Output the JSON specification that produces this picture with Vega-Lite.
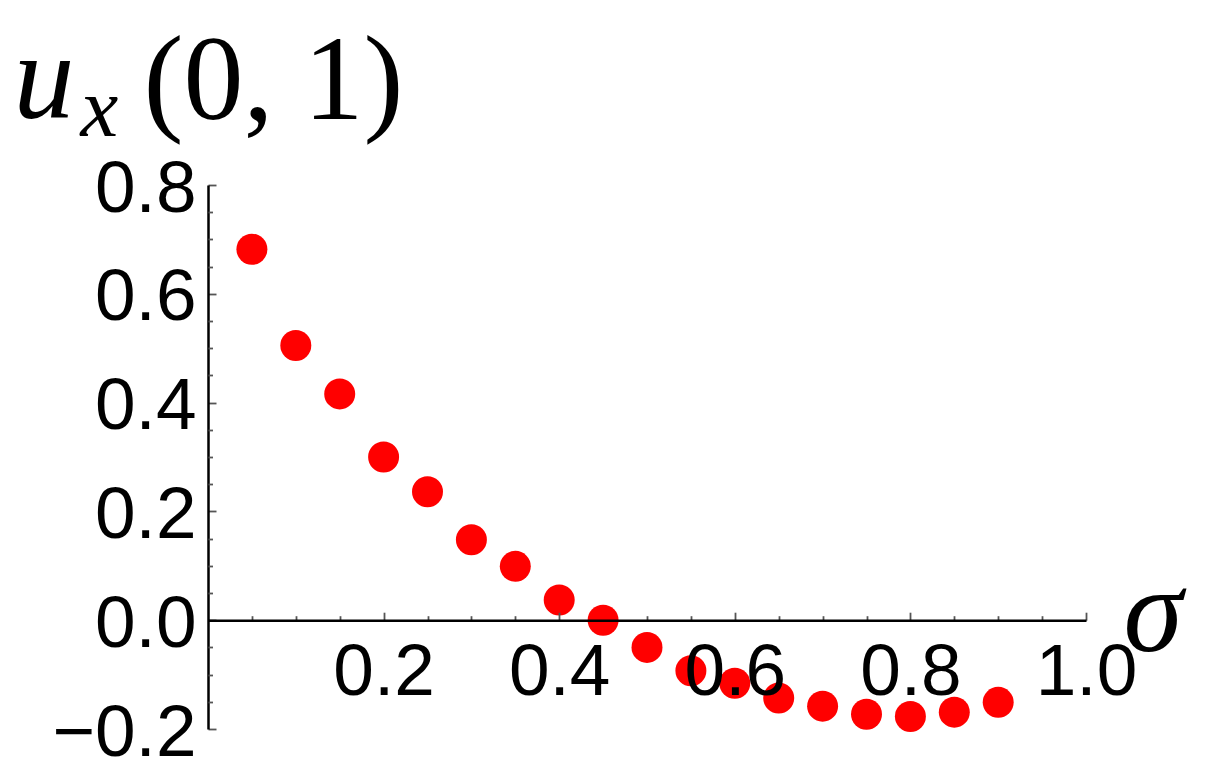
{
  "$schema": "https://vega.github.io/schema/vega-lite/v6.json",
  "width": 878,
  "height": 544,
  "autosize": "none",
  "padding": {"left": 208, "top": 185, "right": 119, "bottom": 46},
  "background": "white",
  "config": {
    "view": {"stroke": null},
    "axis": {
      "grid": false,
      "labelFont": "Liberation Sans",
      "labelFontSize": 73,
      "labelColor": "black",
      "domainColor": "black",
      "domainWidth": 2.5,
      "tickColor": "#555555",
      "tickWidth": 1.8,
      "titleColor": "black",
      "titleFontWeight": "normal",
      "titleAngle": 0,
      "titleAlign": "left",
      "titleBaseline": "alphabetic"
    }
  },
  "data": {
    "values": [
      {"sigma": 0.05, "u": 0.682},
      {"sigma": 0.10, "u": 0.505},
      {"sigma": 0.15, "u": 0.416},
      {"sigma": 0.20, "u": 0.300},
      {"sigma": 0.25, "u": 0.236},
      {"sigma": 0.30, "u": 0.148},
      {"sigma": 0.35, "u": 0.099},
      {"sigma": 0.40, "u": 0.037},
      {"sigma": 0.45, "u": 0.000},
      {"sigma": 0.50, "u": -0.050},
      {"sigma": 0.55, "u": -0.093},
      {"sigma": 0.60, "u": -0.116},
      {"sigma": 0.65, "u": -0.143},
      {"sigma": 0.70, "u": -0.158},
      {"sigma": 0.75, "u": -0.173},
      {"sigma": 0.80, "u": -0.177},
      {"sigma": 0.85, "u": -0.169},
      {"sigma": 0.90, "u": -0.151}
    ]
  },
  "layer": [
    {
      "mark": {"type": "point", "filled": true, "color": "#ff0000", "size": 960, "opacity": 1},
      "encoding": {
        "x": {
          "field": "sigma", "type": "quantitative",
          "scale": {"domain": [0, 1], "nice": false, "zero": false},
          "axis": {
            "orient": "bottom", "offset": -108.8,
            "values": [0.2, 0.4, 0.6, 0.8, 1.0], "format": ".1f",
            "tickSize": -8, "labelPadding": 24, "labelBaseline": "top",
            "labelFlush": false, "labelOverlap": false, "zindex": 1,
            "title": "σ", "titleFont": "Liberation Serif", "titleFontStyle": "italic",
            "titleFontSize": 120, "titleX": 915, "titleY": 30
          }
        },
        "y": {
          "field": "u", "type": "quantitative",
          "scale": {"domain": [-0.2, 0.8], "nice": false, "zero": false},
          "axis": {
            "orient": "left",
            "values": [-0.2, 0, 0.2, 0.4, 0.6, 0.8], "format": ".1f",
            "tickSize": -8, "labelPadding": 20, "labelOffset": 4,
            "labelBaseline": "middle", "labelAlign": "right",
            "labelFlush": false, "labelOverlap": false,
            "title": "u", "titleFont": "Liberation Serif", "titleFontStyle": "italic",
            "titleFontSize": 122, "titleX": -195, "titleY": -68
          }
        }
      }
    },
    {
      "mark": {"type": "point", "opacity": 0},
      "encoding": {
        "x": {
          "field": "sigma", "type": "quantitative",
          "axis": {
            "orient": "bottom", "offset": -108.8,
            "values": [0.05, 0.1, 0.15, 0.25, 0.3, 0.35, 0.45, 0.5, 0.55, 0.65, 0.7, 0.75, 0.85, 0.9, 0.95],
            "tickSize": -4.5, "labels": false, "domain": false,
            "title": "(0, 1)", "titleFont": "Liberation Serif", "titleFontStyle": "normal",
            "titleFontSize": 120, "titleX": -65, "titleY": -502
          }
        },
        "y": {
          "field": "u", "type": "quantitative",
          "axis": {
            "orient": "left",
            "values": [-0.15, -0.1, -0.05, 0.05, 0.1, 0.15, 0.25, 0.3, 0.35, 0.45, 0.5, 0.55, 0.65, 0.7, 0.75],
            "tickSize": -4.5, "labels": false, "domain": false,
            "title": "x", "titleFont": "Liberation Serif", "titleFontStyle": "italic",
            "titleFontSize": 85, "titleX": -128, "titleY": -50
          }
        }
      }
    }
  ],
  "resolve": {"axis": {"x": "independent", "y": "independent"}}
}
